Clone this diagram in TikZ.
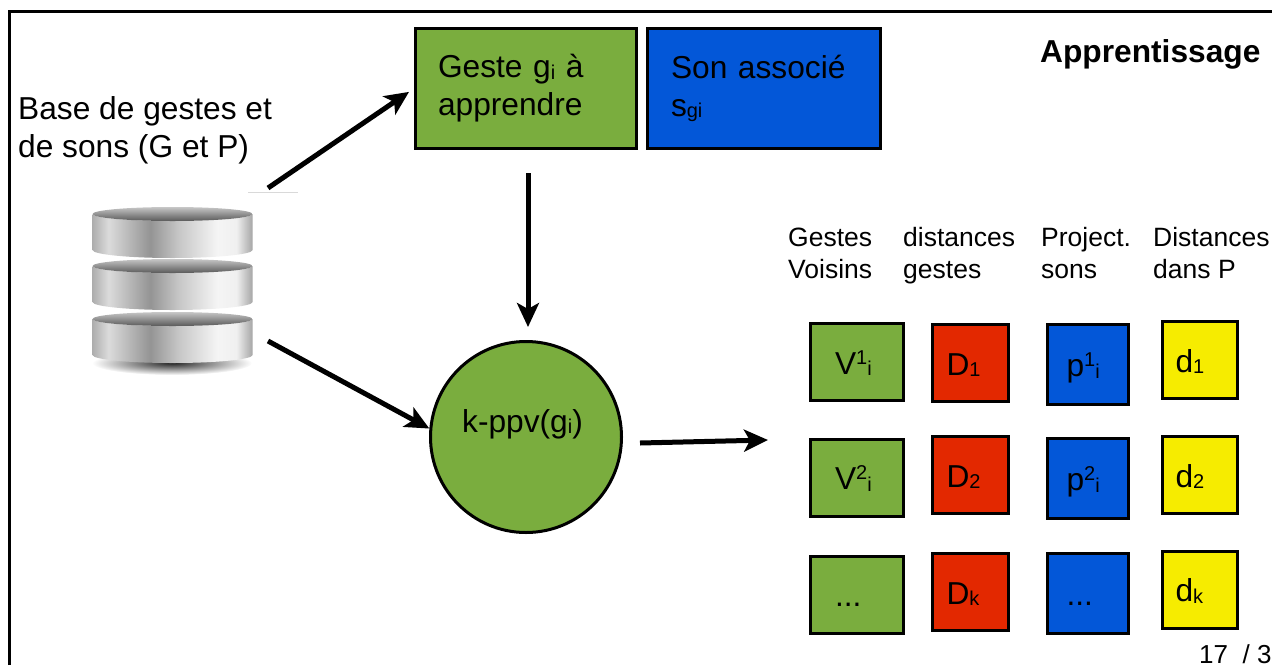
\documentclass[tikz,border=0pt]{standalone}
\usepackage{fontspec}
\setmainfont{Liberation Sans}
\usetikzlibrary{arrows.meta}
\definecolor{vertcase}{RGB}{122,173,62}
\definecolor{bleucase}{RGB}{3,87,216}
\definecolor{rougecase}{RGB}{227,40,0}
\definecolor{jaunecase}{RGB}{246,236,0}
\newcommand{\bas}[1]{\raisebox{-1.5pt}{\fontsize{20}{20}\selectfont #1}}
\newcommand{\haut}[1]{\raisebox{10pt}{\fontsize{20}{20}\selectfont #1}}
\pgfdeclarehorizontalshading{disquemetal}{100bp}{
	color(0bp)=(black!32);
	color(25bp)=(black!32);
	color(30bp)=(black!14);
	color(43bp)=(black!42);
	color(52bp)=(black!22);
	color(64bp)=(black!4);
	color(70bp)=(black!6);
	color(75bp)=(black!35);
	color(100bp)=(black!35)}
\tikzset{
	disque/.pic={
		\shade[shading=disquemetal] (-80,0) -- (-80,36) arc[x radius=80,y radius=8,start angle=180,end angle=0] -- (80,0) arc[x radius=80,y radius=7,start angle=0,end angle=180] -- cycle;
		\shade[top color=black!22,bottom color=black!65] (0,0) ellipse (80 and 7);
	}
}
\begin{document}
\begin{tikzpicture}[x=1pt,y=-1pt]
					\tikzset{
						texte/.style={font=\fontsize{31.7}{38}\selectfont},
						petit/.style={font=\fontsize{26.5}{32}\selectfont,align=left,anchor=west,inner sep=0pt},
						grande case/.style={texte,draw=black,line width=3pt,fill=#1,minimum height=120pt,align=left},
						case/.style={texte,draw=black,line width=3pt,fill=#1,align=left,text height=24pt,text depth=0pt},
						colonne v/.style={case=vertcase,minimum width=93pt,minimum height=77pt,text width=44pt,inner xsep=24.5pt},
						colonne D/.style={case=rougecase,minimum width=76pt,minimum height=77pt,text width=48pt,inner xsep=14pt},
						colonne p/.style={case=bleucase,minimum width=81pt,minimum height=80pt,text width=43pt,inner xsep=19pt},
						colonne d/.style={case=jaunecase,minimum width=75pt,minimum height=77pt,text width=49pt,inner xsep=13pt},
						fleche/.style={line width=5pt,-{Stealth[length=24pt,width=22pt,inset=6pt]}}
					}
					\useasboundingbox (0,0) rectangle (1272,665);
					\draw[line width=3pt] (9,665) -- (9,11) -- (1272,11);
					
					\shade[inner color=black!85,outer color=white] (172,363) ellipse (80 and 12);
					\pic at (172.5,214) {disque};
					\pic at (172.5,266) {disque};
					\pic at (172.5,319) {disque};
					\draw[black!15] (248,192) -- (298,192);
					
					\node[texte,align=left,anchor=west,inner sep=0pt] (base) at (18,130) {Base de gestes et\\de sons (G et P)};
					\node[grande case=vertcase,minimum width=221pt,text width=176pt,inner xsep=22.5pt] (geste) at (526,88.5) {Geste g\bas{i} à\\apprendre};
					\node[grande case=bleucase,minimum width=233pt,text width=186pt,inner xsep=23.5pt] (son) at (764,88.5) {Son associé\\s\bas{gi}};
					\node[font=\fontsize{31.7}{38}\selectfont\bfseries,anchor=base west,inner sep=0pt] (titre) at (1040,62) {Apprentissage};
					\node[draw=black,line width=3pt,fill=vertcase,circle,minimum size=191pt,texte,text height=20pt,text depth=30pt] (ppv) at (526,437) {k-ppv(g\bas{i})\hspace*{7pt}};
					
					\node[petit] (titrev) at (788,253) {Gestes\\Voisins};
					\node[petit] (titreD) at (903,256) {distances\\gestes};
					\node[petit] (titrep) at (1041,253) {Project.\\sons};
					\node[petit] (titred) at (1153,253) {Distances\\dans P};
					
					\node[colonne v] (v1) at (857,362) {V\haut{1}\bas{i}};
					\node[colonne v] (v2) at (857,477.5) {V\haut{2}\bas{i}};
					\node[colonne v] (v3) at (857,594.5) {...};
					\node[colonne D] (D1) at (970.5,363) {D\bas{1}};
					\node[colonne D] (D2) at (970.5,475) {D\bas{2}};
					\node[colonne D] (D3) at (970.5,592) {D\bas{k}};
					\node[colonne p] (p1) at (1088,364.5) {p\haut{1}\bas{i}};
					\node[colonne p] (p2) at (1088,478.5) {p\haut{2}\bas{i}};
					\node[colonne p] (p3) at (1088,593.5) {...};
					\node[colonne d] (d1) at (1200,360) {d\bas{1}};
					\node[colonne d] (d2) at (1200,475) {d\bas{2}};
					\node[colonne d] (d3) at (1200,589.5) {d\bas{k}};
					
					\node[font=\fontsize{26}{30}\selectfont,anchor=base west,inner sep=0pt] (numero) at (1199,663) {17\ \ / 3};
					
					\coordinate (dbhaut) at (268,188);
					\coordinate (dbbas) at (268,341);
					\coordinate (sortie) at (640,443);
					\coordinate (cases) at (768,440);
					\draw[fleche,shorten >=6pt] (dbhaut) -- (geste.west);
					\draw[fleche,shorten <=23pt,shorten >=13pt] ([xshift=2pt]geste.south) -- ([xshift=2pt]ppv.north);
					\draw[fleche] (dbbas) -- (ppv.175);
					\draw[fleche] (sortie) -- (cases);
					\end{tikzpicture}
\end{document}
